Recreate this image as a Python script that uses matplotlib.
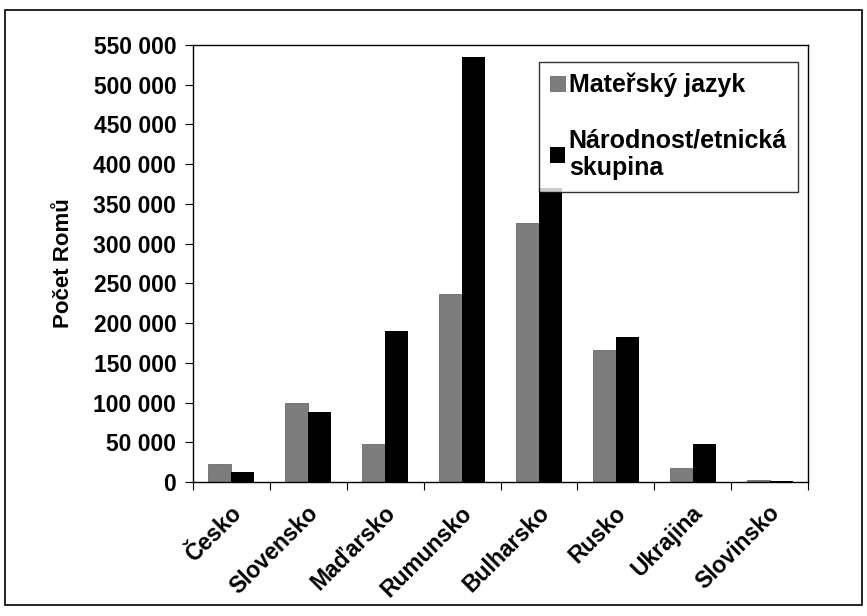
import matplotlib
matplotlib.use('Agg')
import matplotlib.pyplot as plt
import numpy as np
from matplotlib.ticker import FuncFormatter

countries = ['Česko', 'Slovensko', 'Maďarsko', 'Rumunsko', 'Bulharsko', 'Rusko', 'Ukrajina', 'Slovinsko']
materinsky = [23000, 100000, 48000, 236000, 326000, 166000, 18000, 3000]
narodnost = [13000, 88000, 190000, 535000, 370000, 182000, 48000, 1500]

plt.rcParams['font.family'] = ['Liberation Sans', 'DejaVu Sans']
plt.rcParams['font.weight'] = 'bold'

fig = plt.figure(figsize=(8.67, 6.16), dpi=100)
# outer chart frame
fig.patches.append(plt.Rectangle((0.006, 0.018), 0.988, 0.966, transform=fig.transFigure,
                                 fill=False, edgecolor='black', linewidth=1.2))
ax = fig.add_axes([0.2226, 0.2175, 0.7094, 0.7095])

x = np.arange(len(countries))
w = 0.3
ax.bar(x - w/2, materinsky, w, color='#7d7d7d', edgecolor='#5a5a5a', linewidth=0.5, label='Mateřský jazyk')
ax.bar(x + w/2, narodnost, w, color='black', label='Národnost/etnická\nskupina')

ax.set_xlim(-0.5, len(countries) - 0.5)
ax.set_ylim(0, 550000)
ax.set_yticks(np.arange(0, 550001, 50000))
ax.yaxis.set_major_formatter(FuncFormatter(lambda v, p: f'{int(v):,}'.replace(',', ' ')))
ax.set_xticks(np.arange(-0.5, len(countries), 1), minor=False)
ax.set_xticklabels([])
ax.set_xticks(x - 0.02, minor=True)
ax.set_xticklabels(countries, minor=True, rotation=45, ha='right', rotation_mode='anchor',
                   fontsize=16.5, fontweight='bold')
ax.tick_params(axis='x', which='minor', length=0, pad=14)
ax.tick_params(axis='x', which='major', length=6, direction='out')
ax.tick_params(axis='y', length=6, direction='out', labelsize=16.5, pad=6)
for lab in ax.get_yticklabels():
    lab.set_fontweight('bold')

ax.set_ylabel('Počet Romů', fontsize=16, fontweight='bold', labelpad=14)
for s in ax.spines.values():
    s.set_linewidth(1.0)

leg = ax.legend(loc='upper right', bbox_to_anchor=(0.984, 0.962), borderaxespad=0, fontsize=18,
                frameon=True, fancybox=False, edgecolor='black', handlelength=0.6, handleheight=0.6,
                handletextpad=0.15, labelspacing=1.25, borderpad=0.45)
leg.get_frame().set_linewidth(1.0)
for t in leg.get_texts():
    t.set_fontweight('bold')

fig.savefig('out.png', dpi=100)
